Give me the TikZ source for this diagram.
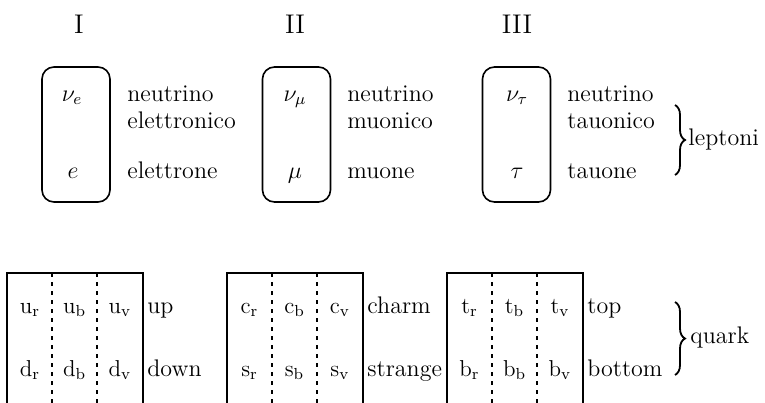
\documentclass[tikz,border=0pt]{standalone}
\usetikzlibrary{decorations.pathreplacing}
\begin{document}
\begin{tikzpicture}[x=0.5pt,y=-0.5pt,
  hdr/.style={anchor=base, inner sep=0, font=\fontsize{13.5}{16}\selectfont},
  lab/.style={anchor=base west, inner sep=0, font=\fontsize{12}{14}\selectfont},
  sym/.style={anchor=base, inner sep=0, font=\fontsize{12}{14}\selectfont},
  qsym/.style={anchor=base, inner sep=0, font=\fontsize{11.5}{14}\selectfont},
  lbox/.style={draw, rounded corners=6pt, minimum width=34pt, minimum height=67.5pt, line width=0.8pt, inner sep=0},
  qbox/.style={draw, line width=0.9pt},
  qdash/.style={draw, line width=0.9pt, dash pattern=on 2pt off 2.5pt},
  brc/.style={draw, line width=0.9pt, decorate, decoration={brace, amplitude=5pt}}]
\useasboundingbox (0,0) rectangle (765,402);
% headers
\node[hdr] (h1) at (79,33) {I};
\node[hdr] (h2) at (295,33) {II};
\node[hdr] (h3) at (517,33) {III};
% lepton boxes
\node[lbox] (b1) at (76,134.5) {};
\node[lbox] (b2) at (296.5,134.5) {};
\node[lbox] (b3) at (516.5,134.5) {};
% lepton symbols
\node[sym] (ne) at (72,101) {$\nu_e$};
\node[sym] (e) at (73,178) {$e$};
\node[sym] (nm) at (295,101) {$\nu_\mu$};
\node[sym] (m) at (295,178) {$\mu$};
\node[sym] (nt) at (517,101) {$\nu_\tau$};
\node[sym] (t) at (517,178) {$\tau$};
% lepton labels
\node[lab] (l1a) at (127,101) {neutrino};
\node[lab] (l1b) at (127,128) {elettronico};
\node[lab] (l1c) at (127,178) {elettrone};
\node[lab] (l2a) at (347,101) {neutrino};
\node[lab] (l2b) at (347,128) {muonico};
\node[lab] (l2c) at (347,178) {muone};
\node[lab] (l3a) at (567,101) {neutrino};
\node[lab] (l3b) at (567,128) {tauonico};
\node[lab] (l3c) at (567,178) {tauone};
\coordinate (lbt) at (675,105);
\coordinate (lbb) at (675,175);
\draw[brc] (lbt) -- (lbb);
\node[lab] (lep) at (688,145) {leptoni};
% quark boxes
\draw[qbox] (7,404) |- (143,273) -- (143,404);
\draw[qdash] (52,273) -- (52,404);
\draw[qdash] (97,273) -- (97,404);
\draw[qbox] (227,404) |- (363,273) -- (363,404);
\draw[qdash] (272,273) -- (272,404);
\draw[qdash] (317,273) -- (317,404);
\draw[qbox] (447,404) |- (583,273) -- (583,404);
\draw[qdash] (492,273) -- (492,404);
\draw[qdash] (537,273) -- (537,404);
% quark symbols
\node[qsym] (ur) at (30,313) {u$_\mathrm{r}$};
\node[qsym] (ub) at (74.5,313) {u$_\mathrm{b}$};
\node[qsym] (uv) at (120,313) {u$_\mathrm{v}$};
\node[qsym] (dr) at (30,376) {d$_\mathrm{r}$};
\node[qsym] (db) at (74.5,376) {d$_\mathrm{b}$};
\node[qsym] (dv) at (120,376) {d$_\mathrm{v}$};
\node[qsym] (cr) at (249.5,313) {c$_\mathrm{r}$};
\node[qsym] (cb) at (294.5,313) {c$_\mathrm{b}$};
\node[qsym] (cv) at (340,313) {c$_\mathrm{v}$};
\node[qsym] (sr) at (249.5,376) {s$_\mathrm{r}$};
\node[qsym] (sb) at (294.5,376) {s$_\mathrm{b}$};
\node[qsym] (sv) at (340,376) {s$_\mathrm{v}$};
\node[qsym] (tr) at (469.5,313) {t$_\mathrm{r}$};
\node[qsym] (tb) at (514.5,313) {t$_\mathrm{b}$};
\node[qsym] (tv) at (560,313) {t$_\mathrm{v}$};
\node[qsym] (br) at (469.5,376) {b$_\mathrm{r}$};
\node[qsym] (bb) at (514.5,376) {b$_\mathrm{b}$};
\node[qsym] (bv) at (560,376) {b$_\mathrm{v}$};
% quark labels
\node[lab] (q1a) at (147,313) {up};
\node[lab] (q1b) at (147,376) {down};
\node[lab] (q2a) at (367,313) {charm};
\node[lab] (q2b) at (367,376) {strange};
\node[lab] (q3a) at (587,313) {top};
\node[lab] (q3b) at (587,376) {bottom};
\coordinate (qbt) at (675,302);
\coordinate (qbb) at (675,375);
\draw[brc] (qbt) -- (qbb);
\node[lab] (qrk) at (690,343) {quark};
\end{tikzpicture}
\end{document}
